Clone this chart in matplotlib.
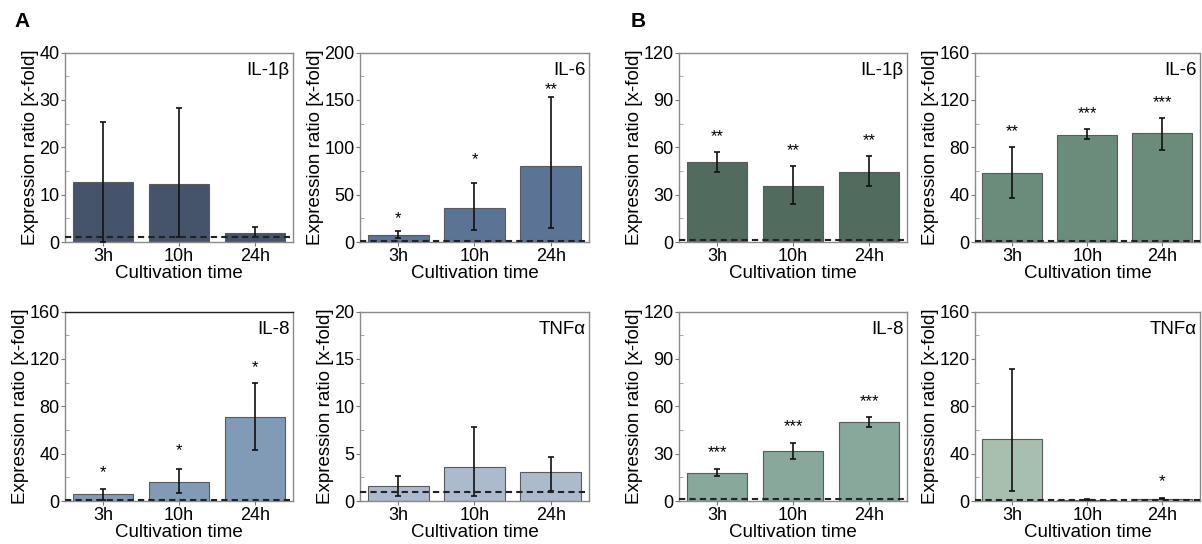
import matplotlib.pyplot as plt
from matplotlib.ticker import AutoMinorLocator

plt.rcParams['font.family'] = ['Liberation Sans', 'DejaVu Sans']

times = ['3h', '10h', '24h']

# panel A
a_il1b = [12.7, 12.2, 1.95]
a_il1b_lo = [0.1, 1.0, 1.0]
a_il1b_hi = [25.4, 28.3, 3.07]

a_il6 = [7.3, 35.6, 80.0]
a_il6_lo = [4.2, 12.6, 14.3]
a_il6_hi = [11.2, 62.8, 153.0]
a_il6_sig = ['*', '*', '**']
a_il6_sig_y = [25, 87, 161]

a_il8 = [5.6, 16.2, 71.3]
a_il8_lo = [0.5, 6.7, 43.0]
a_il8_hi = [10.3, 26.9, 99.6]
a_il8_sig = ['*', '*', '*']
a_il8_sig_y = [23.8, 42.5, 113]

a_tnf = [1.57, 3.64, 3.04]
a_tnf_lo = [0.5, 0.5, 1.08]
a_tnf_hi = [2.66, 7.8, 4.6]

# panel B
b_il1b = [50.5, 35.6, 44.6]
b_il1b_lo = [44.6, 23.9, 35.2]
b_il1b_hi = [56.8, 48.0, 54.7]
b_il1b_sig = ['**', '**', '**']
b_il1b_sig_y = [67, 58, 64.3]

b_il6 = [58.1, 90.5, 91.9]
b_il6_lo = [37.4, 86.6, 77.4]
b_il6_hi = [80.1, 95.2, 105.0]
b_il6_sig = ['**', '***', '***']
b_il6_sig_y = [93.5, 108.4, 118]

b_il8 = [17.8, 31.5, 49.9]
b_il8_lo = [15.9, 26.4, 46.6]
b_il8_hi = [20.3, 36.7, 53.3]
b_il8_sig = ['***', '***', '***']
b_il8_sig_y = [30.6, 47.2, 62.9]

b_tnf = [52.6, 1.1, 2.0]
b_tnf_lo = [8.4, 0.9, 1.5]
b_tnf_hi = [111.9, 1.3, 2.5]
b_tnf_sig = ['', '', '*']
b_tnf_sig_y = [0, 0, 16]


def panel(ax, vals, lo, hi, ymax, color, name, sig=None, sig_y=None):
    x = range(len(times))
    yerr = [[v - l for v, l in zip(vals, lo)], [h - v for v, h in zip(vals, hi)]]
    ax.bar(x, vals, width=0.8, color=color, edgecolor='#5a5a5a', linewidth=0.8, zorder=2)
    ax.errorbar(x, vals, yerr=yerr, fmt='none', ecolor='#111111', elinewidth=1.2,
                capsize=2, capthick=1.2, zorder=3)
    ax.axhline(1, color='#222222', linestyle=(0, (3, 2)), linewidth=1.5, zorder=4)
    if sig is not None:
        for i, (s, sy) in enumerate(zip(sig, sig_y)):
            if s:
                ax.text(i, sy, s, ha='center', va='center', fontsize=12)
    ax.set_xlim(-0.5, 2.5)
    ax.set_ylim(0, ymax)
    ax.set_yticks([ymax * k / 4 for k in range(5)])
    ax.set_yticklabels([f'{int(ymax * k / 4)}' for k in range(5)])
    ax.yaxis.set_minor_locator(AutoMinorLocator(2))
    ax.set_xticks(list(x))
    ax.set_xticklabels(times)
    ax.tick_params(axis='both', which='major', direction='out', length=3,
                   color='#777777', labelsize=13, pad=1)
    ax.tick_params(axis='y', which='minor', direction='in', length=3, color='#999999')
    for sp in ax.spines.values():
        sp.set_color('#8a8a8a')
        sp.set_linewidth(1.0)
    ax.set_xlabel('Cultivation time', fontsize=13.5, labelpad=0)
    ax.set_ylabel('Expression ratio [x-fold]', fontsize=13.5, labelpad=0)
    ax.text(0.985, 0.95, name, transform=ax.transAxes, ha='right', va='top', fontsize=13.5)


fig = plt.figure(figsize=(12.02, 5.44), dpi=100)

cols = [(0.0541, 0.1897), (0.2995, 0.1905), (0.5649, 0.1897), (0.8111, 0.1872)]
rows = [(0.5551, 0.3483), (0.0790, 0.3483)]

ax1 = fig.add_axes([cols[0][0], rows[0][0], cols[0][1], rows[0][1]])
panel(ax1, a_il1b, a_il1b_lo, a_il1b_hi, 40, '#45546b', 'IL-1β')
ax2 = fig.add_axes([cols[1][0], rows[0][0], cols[1][1], rows[0][1]])
panel(ax2, a_il6, a_il6_lo, a_il6_hi, 200, '#5b7394', 'IL-6', a_il6_sig, a_il6_sig_y)
ax3 = fig.add_axes([cols[0][0], rows[1][0], cols[0][1], rows[1][1]])
panel(ax3, a_il8, a_il8_lo, a_il8_hi, 160, '#819ab6', 'IL-8', a_il8_sig, a_il8_sig_y)
ax3.spines['top'].set_color('#222222')
ax4 = fig.add_axes([cols[1][0], rows[1][0], cols[1][1], rows[1][1]])
panel(ax4, a_tnf, a_tnf_lo, a_tnf_hi, 20, '#abbacc', 'TNFα')

ax5 = fig.add_axes([cols[2][0], rows[0][0], cols[2][1], rows[0][1]])
panel(ax5, b_il1b, b_il1b_lo, b_il1b_hi, 120, '#516b5f', 'IL-1β', b_il1b_sig, b_il1b_sig_y)
ax6 = fig.add_axes([cols[3][0], rows[0][0], cols[3][1], rows[0][1]])
panel(ax6, b_il6, b_il6_lo, b_il6_hi, 160, '#6b8c7b', 'IL-6', b_il6_sig, b_il6_sig_y)
ax7 = fig.add_axes([cols[2][0], rows[1][0], cols[2][1], rows[1][1]])
panel(ax7, b_il8, b_il8_lo, b_il8_hi, 120, '#87a89a', 'IL-8', b_il8_sig, b_il8_sig_y)
ax8 = fig.add_axes([cols[3][0], rows[1][0], cols[3][1], rows[1][1]])
panel(ax8, b_tnf, b_tnf_lo, b_tnf_hi, 160, '#a7bfae', 'TNFα', b_tnf_sig, b_tnf_sig_y)

fig.text(0.012, 0.96, 'A', fontsize=15, fontweight='bold', va='center')
fig.text(0.525, 0.96, 'B', fontsize=15, fontweight='bold', va='center')

fig.savefig('out.png', dpi=100)
